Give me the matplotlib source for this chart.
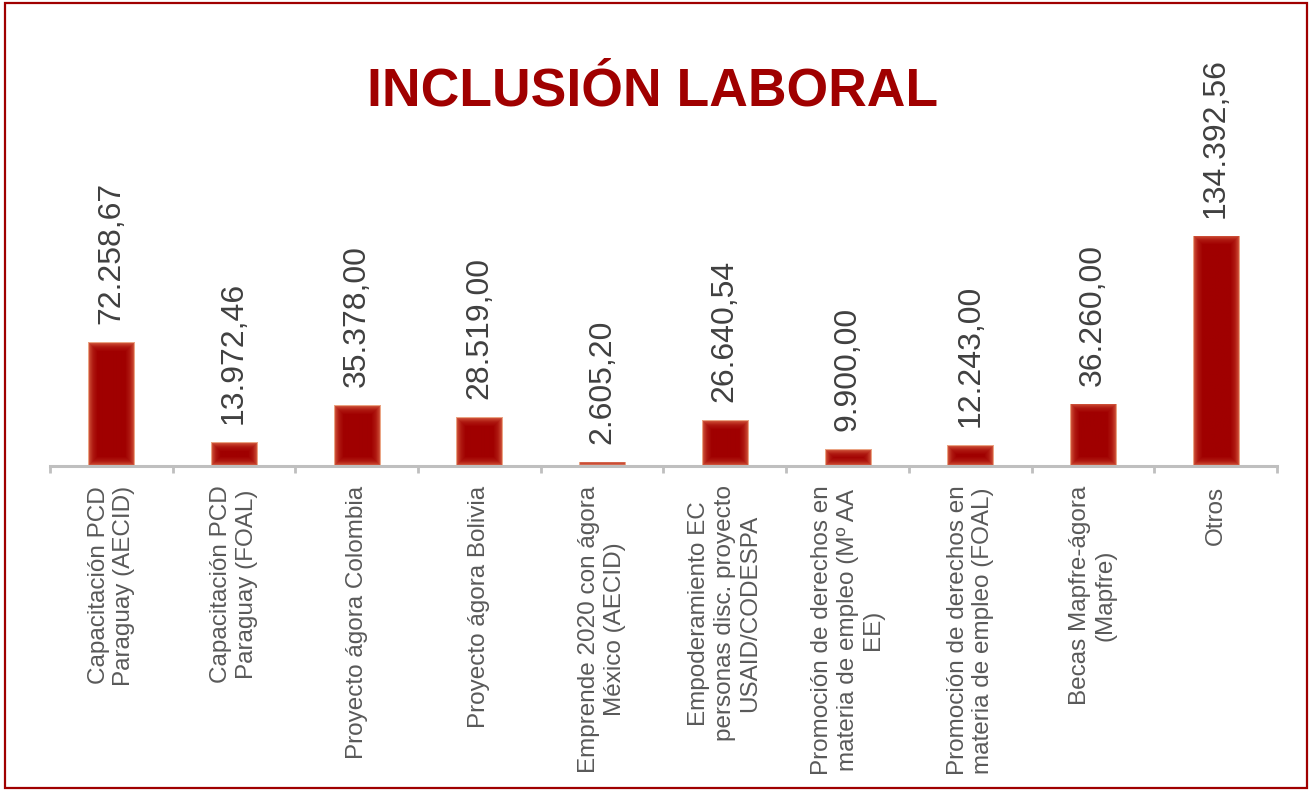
import numpy as np
import matplotlib.pyplot as plt
from matplotlib.colors import LinearSegmentedColormap
from matplotlib.patches import Rectangle

plt.rcParams['font.family'] = ['Liberation Sans', 'DejaVu Sans']

# datos
categorias = [
    "Capacitación PCD\nParaguay (AECID)",
    "Capacitación PCD\nParaguay (FOAL)",
    "Proyecto ágora Colombia",
    "Proyecto ágora Bolivia",
    "Emprende 2020 con ágora\nMéxico (AECID)",
    "Empoderamiento EC\npersonas disc. proyecto\nUSAID/CODESPA",
    "Promoción de derechos en\nmateria de empleo (Mº AA\nEE)",
    "Promoción de derechos en\nmateria de empleo (FOAL)",
    "Becas Mapfre-ágora\n(Mapfre)",
    "Otros",
]
importes = [72258.67, 13972.46, 35378.00, 28519.00, 2605.20,
            26640.54, 9900.00, 12243.00, 36260.00, 134392.56]


def fmt_es(v):
    # 72.258,67
    return f"{v:,.2f}".replace(",", "X").replace(".", ",").replace("X", ".")


fig = plt.figure(figsize=(13.11, 7.9), dpi=100)
ax = fig.add_axes([0.0381, 0.4101, 0.936, 0.325])

x = np.arange(len(categorias))
ymax = 150000
bars = ax.bar(x, importes, width=0.375, color="#A00000", zorder=2)

# degradado en los bordes de cada barra
cmap = LinearSegmentedColormap.from_list(
    "borde", [(0.0, "#EBA585"), (0.12, "#C8442F"), (0.5, "#AE1810"), (1.0, "#A00000")])
ax_h_px = 0.325 * 790
for rect in bars:
    x0, w, h = rect.get_x(), rect.get_width(), rect.get_height()
    h_px = h / ymax * ax_h_px
    ny = max(int(round(h_px)), 3)
    nx = 46
    yy, xx = np.mgrid[0:ny, 0:nx]
    d = np.minimum(np.minimum(xx, nx - 1 - xx), np.minimum(yy, ny - 1 - yy))
    img = np.clip(d / 9.0, 0, 1)
    im = ax.imshow(img, cmap=cmap, vmin=0, vmax=1, extent=[x0, x0 + w, 0, h],
                   aspect="auto", interpolation="bilinear", zorder=3)
    im.set_clip_path(rect)

for xi, v in zip(x, importes):
    ax.annotate(fmt_es(v), (xi, v), xytext=(0, 13), textcoords="offset points",
                rotation=90, ha="center", va="bottom", fontsize=23,
                color="#404040")

ax.set_xlim(-0.5, len(categorias) - 0.5)
ax.set_ylim(0, ymax)

for s in ["top", "right", "left"]:
    ax.spines[s].set_visible(False)
ax.spines["bottom"].set_color("#BFBFBF")
ax.spines["bottom"].set_linewidth(2.2)
ax.spines["bottom"].set_zorder(4)
ax.set_yticks([])

ax.set_xticks(x)
ax.set_xticklabels(categorias, rotation=90, fontsize=17.5, color="#595959",
                   multialignment="center")
ax.tick_params(axis="x", which="major", length=0, pad=14)
ax.set_xticks(np.arange(-0.5, len(categorias)), minor=True)
ax.tick_params(axis="x", which="minor", length=5, width=2, color="#BFBFBF")

fig.text(0.498, 0.884, "INCLUSIÓN LABORAL", ha="center", va="center",
         fontsize=38.5, fontweight="bold", color="#A00000")

# marco
fig.patches.append(Rectangle((0.0035, 0.003), 0.9935, 0.993, transform=fig.transFigure,
                             fill=False, edgecolor="#A00000", linewidth=1.6))

fig.savefig("out.png", dpi=100)
